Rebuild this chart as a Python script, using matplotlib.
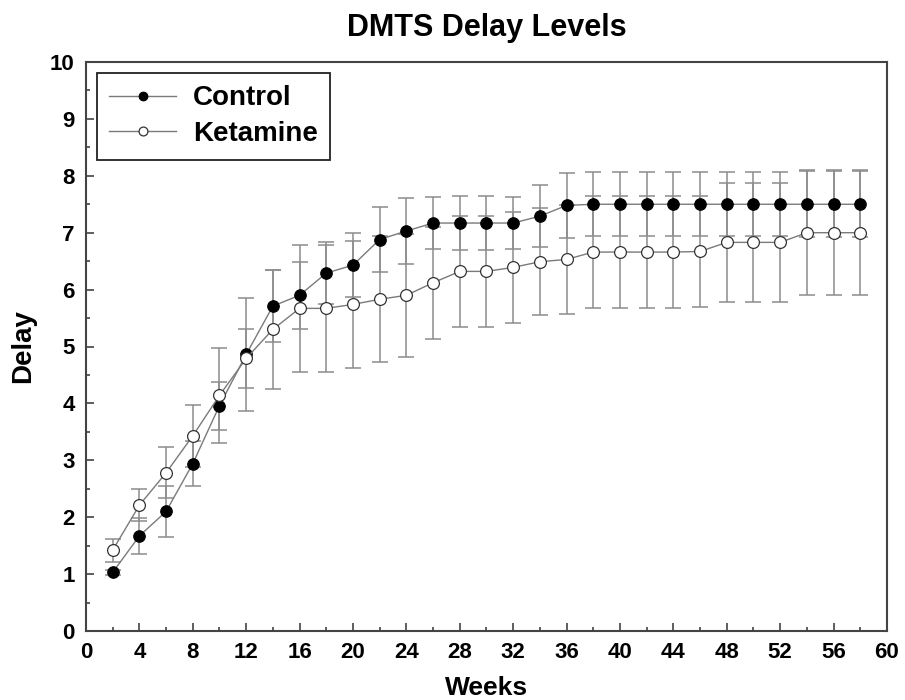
import numpy as np
import matplotlib
matplotlib.use("Agg")
import matplotlib.pyplot as plt
from matplotlib.ticker import MultipleLocator

plt.rcParams['font.family'] = ['Liberation Sans', 'DejaVu Sans']

# weeks 2..58 every two weeks
weeks = [2, 4, 6, 8, 10, 12, 14, 16, 18, 20, 22, 24, 26, 28, 30,
         32, 34, 36, 38, 40, 42, 44, 46, 48, 50, 52, 54, 56, 58]

control = [1.03, 1.67, 2.10, 2.94, 3.96, 4.86, 5.71, 5.90, 6.29, 6.43,
           6.88, 7.03, 7.17, 7.17, 7.17, 7.17, 7.29, 7.48, 7.50, 7.50,
           7.50, 7.50, 7.50, 7.50, 7.50, 7.50, 7.50, 7.50, 7.50]
control_err = [0.05, 0.31, 0.44, 0.40, 0.42, 1.00, 0.63, 0.59, 0.55, 0.56,
               0.57, 0.58, 0.46, 0.47, 0.47, 0.46, 0.54, 0.57, 0.56, 0.56,
               0.56, 0.56, 0.56, 0.56, 0.56, 0.56, 0.58, 0.58, 0.58]

ketamine = [1.42, 2.21, 2.78, 3.43, 4.14, 4.79, 5.30, 5.67, 5.67, 5.74,
            5.83, 5.90, 6.12, 6.32, 6.32, 6.39, 6.49, 6.53, 6.66, 6.66,
            6.66, 6.66, 6.67, 6.83, 6.83, 6.83, 7.00, 7.00, 7.00]
ketamine_err = [0.20, 0.28, 0.45, 0.55, 0.83, 0.52, 1.05, 1.12, 1.12, 1.11,
                1.11, 1.08, 0.98, 0.98, 0.98, 0.97, 0.94, 0.96, 0.98, 0.98,
                0.98, 0.98, 0.98, 1.04, 1.04, 1.04, 1.10, 1.10, 1.10]

fig = plt.figure(figsize=(9.05, 7.0), dpi=100)
ax = fig.add_axes([0.095, 0.0986, 0.885, 0.8128])

errcol = '#8c8c8c'
ax.errorbar(weeks, control, yerr=control_err, fmt='none', ecolor=errcol,
            elinewidth=1.1, capsize=6, capthick=1.1, zorder=1)
ax.errorbar(weeks, ketamine, yerr=ketamine_err, fmt='none', ecolor=errcol,
            elinewidth=1.1, capsize=6, capthick=1.1, zorder=1)

ax.plot(weeks, control, '-o', color='#7a7a7a', lw=1.0, mfc='black',
        mec='black', ms=8.3, mew=0.8, label='Control', zorder=3)
ax.plot(weeks, ketamine, '-o', color='#7a7a7a', lw=1.0, mfc='white',
        mec='#333333', ms=8.5, mew=0.9, label='Ketamine', zorder=4)

ax.set_xlim(0, 60)
ax.set_ylim(0, 10)
ax.xaxis.set_major_locator(MultipleLocator(4))
ax.xaxis.set_minor_locator(MultipleLocator(2))
ax.yaxis.set_major_locator(MultipleLocator(1))
ax.yaxis.set_minor_locator(MultipleLocator(0.5))
ax.tick_params(which='both', direction='in', top=False, right=False,
               color='#333333', width=1.1)
ax.tick_params(which='major', length=6, labelsize=16, pad=8)
ax.tick_params(which='minor', length=3)
for lab in ax.get_xticklabels() + ax.get_yticklabels():
    lab.set_fontweight('bold')
for sp in ax.spines.values():
    sp.set_color('#444444')
    sp.set_linewidth(1.5)

ax.set_title('DMTS Delay Levels', fontsize=22, fontweight='bold', pad=19)
ax.set_xlabel('Weeks', fontsize=19, fontweight='bold', labelpad=9)
ax.set_ylabel('Delay', fontsize=20, fontweight='bold', labelpad=10)

leg = ax.legend(loc='upper left', bbox_to_anchor=(0.0137, 0.981),
                borderaxespad=0, fancybox=False, edgecolor='#222222',
                framealpha=1, prop={'size': 20, 'weight': 'bold'},
                markerscale=0.75, handlelength=2.4, handletextpad=0.6,
                labelspacing=0.35, borderpad=0.45)
leg.get_frame().set_linewidth(1.3)

fig.savefig('out.png', dpi=100, facecolor='white')
